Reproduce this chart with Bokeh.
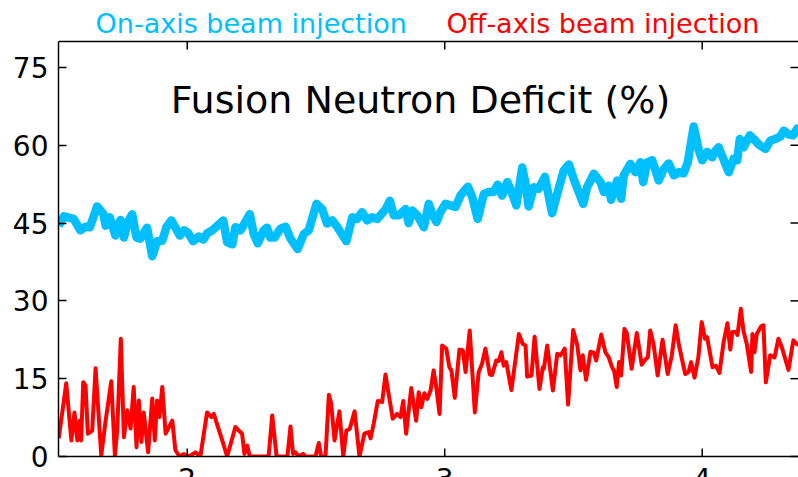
import math
from bokeh.plotting import figure
from bokeh.models import FixedTicker, Range1d, Span
from bokeh.core.properties import value
from bokeh.embed import file_html
from bokeh.resources import INLINE

# ---- data ----
on_x = [1.501, 1.521, 1.559, 1.585, 1.605, 1.622, 1.650, 1.674, 1.683, 1.699,
        1.721, 1.741, 1.754, 1.769, 1.786, 1.803, 1.818, 1.844, 1.864, 1.883,
        1.903, 1.919, 1.938, 1.954, 1.971, 1.987, 2.002, 2.023, 2.045, 2.062,
        2.077, 2.097, 2.140, 2.155, 2.175, 2.187, 2.207, 2.243, 2.258, 2.274,
        2.297, 2.310, 2.323, 2.339, 2.362, 2.382, 2.401, 2.429, 2.453, 2.472,
        2.502, 2.524, 2.543, 2.563, 2.582, 2.618, 2.641, 2.660, 2.679, 2.699,
        2.718, 2.738, 2.757, 2.770, 2.787, 2.802, 2.822, 2.848, 2.860, 2.874,
        2.893, 2.919, 2.938, 2.951, 2.968, 2.983, 3.003, 3.022, 3.042, 3.061,
        3.090, 3.107, 3.128, 3.152, 3.171, 3.190, 3.206, 3.223, 3.243, 3.255,
        3.278, 3.301, 3.314, 3.326, 3.346, 3.365, 3.389, 3.417, 3.439, 3.462,
        3.482, 3.501, 3.538, 3.553, 3.579, 3.605, 3.618, 3.637, 3.646, 3.670,
        3.685, 3.695, 3.721, 3.741, 3.760, 3.771, 3.786, 3.806, 3.831, 3.851,
        3.870, 3.890, 3.909, 3.928, 3.944, 3.967, 3.987, 4.000, 4.019, 4.039,
        4.052, 4.064, 4.103, 4.122, 4.136, 4.146, 4.161, 4.185, 4.200, 4.223,
        4.246, 4.265, 4.284, 4.304, 4.317, 4.335, 4.353, 4.369, 4.400]
on_y = [44.5, 46.3, 45.8, 43.6, 44.3, 44.2, 48.2, 46.8, 44.5, 46.1,
        42.6, 45.6, 42.2, 45.2, 46.7, 42.2, 42.0, 44.1, 38.6, 41.5,
        41.6, 44.2, 45.5, 44.1, 42.6, 43.6, 43.2, 41.5, 42.4, 41.8,
        43.0, 43.6, 45.5, 41.3, 40.9, 44.2, 43.6, 46.7, 42.9, 41.1,
        43.6, 44.1, 42.2, 42.2, 43.9, 44.3, 42.0, 40.0, 42.9, 43.6,
        48.7, 47.7, 44.9, 45.5, 44.3, 41.5, 46.1, 45.8, 47.1, 45.5,
        46.1, 45.8, 46.9, 47.6, 49.3, 46.5, 46.5, 47.7, 45.0, 47.4,
        46.5, 44.2, 48.7, 46.8, 45.2, 47.1, 48.7, 48.4, 48.1, 50.3,
        52.0, 50.0, 45.8, 50.6, 51.0, 51.0, 52.4, 50.3, 52.9, 51.6,
        48.4, 55.7, 52.6, 48.2, 51.9, 51.6, 53.9, 46.9, 51.0, 55.1,
        56.3, 53.5, 48.7, 51.9, 54.5, 52.9, 51.0, 52.2, 49.5, 53.2,
        49.7, 54.2, 56.4, 54.8, 56.7, 52.9, 56.7, 57.1, 53.2, 55.4,
        56.5, 54.2, 54.8, 54.6, 56.7, 63.6, 59.0, 57.1, 58.7, 57.7,
        59.0, 59.6, 54.8, 57.4, 57.1, 61.2, 59.6, 61.9, 61.2, 60.0,
        59.3, 60.9, 61.2, 61.7, 62.8, 62.1, 61.9, 63.2, 62.5]

off_x = [1.501, 1.530, 1.550, 1.562, 1.573, 1.582, 1.588, 1.596, 1.605, 1.614,
         1.631, 1.644, 1.666, 1.683, 1.705, 1.719, 1.728, 1.742, 1.754, 1.767,
         1.780, 1.792, 1.803, 1.812, 1.822, 1.831, 1.848, 1.864, 1.874, 1.883,
         1.892, 1.903, 1.916, 1.942, 1.954, 1.970, 1.987, 2.006, 2.032, 2.051,
         2.077, 2.094, 2.103, 2.136, 2.155, 2.187, 2.200, 2.213, 2.222, 2.233,
         2.243, 2.316, 2.330, 2.347, 2.389, 2.401, 2.411, 2.420, 2.433, 2.450,
         2.459, 2.498, 2.511, 2.520, 2.537, 2.550, 2.559, 2.572, 2.591, 2.606,
         2.618, 2.631, 2.650, 2.669, 2.688, 2.705, 2.712, 2.724, 2.740, 2.757,
         2.770, 2.783, 2.798, 2.815, 2.828, 2.839, 2.850, 2.870, 2.889, 2.899,
         2.909, 2.921, 2.932, 2.945, 2.957, 2.967, 2.980, 2.990, 3.006, 3.018,
         3.026, 3.039, 3.057, 3.070, 3.081, 3.097, 3.117, 3.132, 3.145, 3.158,
         3.175, 3.184, 3.200, 3.210, 3.220, 3.229, 3.239, 3.259, 3.288, 3.303,
         3.314, 3.320, 3.337, 3.349, 3.368, 3.381, 3.385, 3.398, 3.420, 3.437,
         3.450, 3.466, 3.479, 3.499, 3.515, 3.527, 3.536, 3.549, 3.566, 3.579,
         3.588, 3.608, 3.624, 3.637, 3.650, 3.658, 3.668, 3.677, 3.685, 3.698,
         3.707, 3.726, 3.746, 3.765, 3.781, 3.789, 3.798, 3.811, 3.827, 3.846,
         3.866, 3.882, 3.897, 3.910, 3.934, 3.947, 3.957, 3.970, 3.985, 3.998,
         4.011, 4.019, 4.040, 4.053, 4.067, 4.083, 4.098, 4.109, 4.117, 4.130,
         4.137, 4.150, 4.160, 4.173, 4.190, 4.195, 4.203, 4.212, 4.229, 4.238,
         4.247, 4.264, 4.281, 4.296, 4.309, 4.335, 4.354, 4.367, 4.400]
off_y = [3.5, 14.1, 3.1, 8.5, 3.1, 6.9, 3.1, 14.3, 13.7, 4.4,
         5.0, 17.0, 0.2, 6.9, 14.5, 0.2, 5.0, 22.7, 3.7, 8.9,
         5.4, 13.4, 1.8, 10.8, 2.8, 8.5, 0.8, 11.2, 3.1, 10.8,
         7.6, 13.4, 4.4, 6.9, 1.2, 0.0, 0.5, 0.0, 0.8, 0.0,
         8.5, 7.6, 8.2, 3.1, 0.0, 5.7, 5.0, 4.4, 0.5, 2.1,
         0.0, 0.0, 7.9, 0.0, 0.0, 5.8, 0.5, 0.8, 0.0, 0.5,
         0.0, 0.0, 2.6, 0.0, 0.0, 11.9, 10.2, 3.1, 8.7, 0.0,
         5.0, 5.3, 8.7, 0.0, 4.4, 4.7, 3.5, 6.3, 10.7, 10.5,
         15.8, 11.8, 7.3, 8.2, 7.6, 10.7, 4.4, 13.2, 6.9, 12.4,
         9.5, 12.2, 11.1, 12.7, 16.6, 13.4, 8.2, 21.4, 20.8, 17.2,
         16.6, 11.3, 20.6, 20.5, 16.3, 24.3, 8.5, 16.3, 17.9, 20.8,
         15.8, 15.7, 18.5, 18.4, 20.1, 17.5, 18.2, 12.8, 23.6, 21.7,
         21.4, 15.4, 15.6, 23.1, 13.0, 17.2, 16.9, 21.4, 12.7, 19.8,
         19.5, 20.8, 10.0, 24.4, 21.4, 16.6, 19.5, 14.8, 20.2, 20.0,
         18.5, 23.5, 20.1, 19.1, 17.2, 16.5, 13.4, 18.2, 15.6, 24.6,
         23.8, 16.9, 23.8, 17.7, 18.8, 19.1, 24.3, 21.7, 15.6, 22.5,
         15.9, 19.5, 25.3, 21.4, 15.9, 16.3, 18.2, 15.2, 19.1, 25.9,
         22.7, 23.0, 17.2, 17.5, 16.1, 22.0, 25.7, 20.6, 24.0, 24.0,
         23.4, 28.5, 24.3, 21.7, 16.3, 23.6, 20.1, 23.6, 25.1, 25.3,
         14.3, 19.5, 19.1, 22.7, 21.1, 16.7, 22.4, 21.7, 21.0]

y_ticks = [0, 15, 30, 45, 60, 75]
x_ticks = [2, 3, 4]
x_tick_labels = ["2", "3", "4"]
title_text = "Fusion Neutron Deficit (%)"
series_names = ["On-axis beam injection", "Off-axis beam injection"]
series_colors = ["#00BFFF", "#FF0000"]

FONT = "DejaVu Sans"

# axes box in data units
X0, X1 = 1.5, 4.374
Y0, Y1 = 0.0, 80.0
# the frame also covers the strip above and below the box (texts live there)
Y_LO, Y_HI = -4.05, 87.9

p = figure(width=798, height=477, output_backend="svg", toolbar_location=None,
           x_range=Range1d(X0, X1), y_range=Range1d(Y_LO, Y_HI),
           x_axis_location=None, y_axis_location="left",
           min_border_left=58, min_border_right=0,
           min_border_top=0, min_border_bottom=0)
p.outline_line_color = None
p.grid.visible = False
p.background_fill_color = "white"
p.border_fill_color = "white"

yax = p.yaxis[0]
yax.ticker = FixedTicker(ticks=y_ticks)
yax.bounds = (Y0, Y1)
yax.axis_line_color = "black"
yax.axis_line_width = 1.5
yax.major_tick_in = 8
yax.major_tick_out = 0
yax.major_tick_line_color = "black"
yax.major_tick_line_width = 1.5
yax.minor_tick_line_color = None
yax.major_label_text_font = FONT
yax.major_label_text_font_size = "28px"
yax.major_label_text_color = "black"
yax.major_label_standoff = 10

# data lines
p.line(on_x, on_y, line_color=series_colors[0], line_width=8.5, line_join="round")
p.line(off_x, off_y, line_color=series_colors[1], line_width=4, line_join="round")

# keep lines inside the axes box (mask the strips outside it)
p.quad(left=[X0], right=[X1], bottom=[Y_LO], top=[Y0],
       fill_color="white", line_color=None)
p.quad(left=[X0], right=[X1], bottom=[Y1], top=[Y_HI],
       fill_color="white", line_color=None)

# box spines (bottom & top)
for loc in (Y0, Y1):
    p.add_layout(Span(location=loc, dimension="width", line_color="black",
                      line_width=1.5))

# inward ticks on bottom, top and right
tick_kw = dict(length=8, length_units="screen", line_color="black", line_width=1.5)
p.ray(x=x_ticks, y=[Y0] * len(x_ticks), angle=math.pi / 2, **tick_kw)
p.ray(x=x_ticks, y=[Y1] * len(x_ticks), angle=-math.pi / 2, **tick_kw)
p.ray(x=[X1] * len(y_ticks), y=y_ticks, angle=math.pi, **tick_kw)

# bottom tick labels (cut by the picture's lower edge, as in the reference)
p.text(x=x_ticks, y=[-4.3] * len(x_ticks), text=x_tick_labels,
       text_align="center", text_baseline="alphabetic",
       text_font=value(FONT), text_font_size=value("28px"), text_color="black")

# coloured series names above the box
legend_x = [1.644, 3.007]
p.text(x=legend_x, y=[83.4] * 2, text=series_names, text_color=series_colors,
       text_align="left", text_baseline="alphabetic",
       text_font=value(FONT), text_font_size=value("27px"))

# title inside the box
p.text(x=[2.906], y=[68.8], text=[title_text], text_align="center",
       text_baseline="alphabetic", text_font=value(FONT),
       text_font_size=value("38px"), text_color="black")

open("out.html", "w").write(file_html(p, INLINE))
